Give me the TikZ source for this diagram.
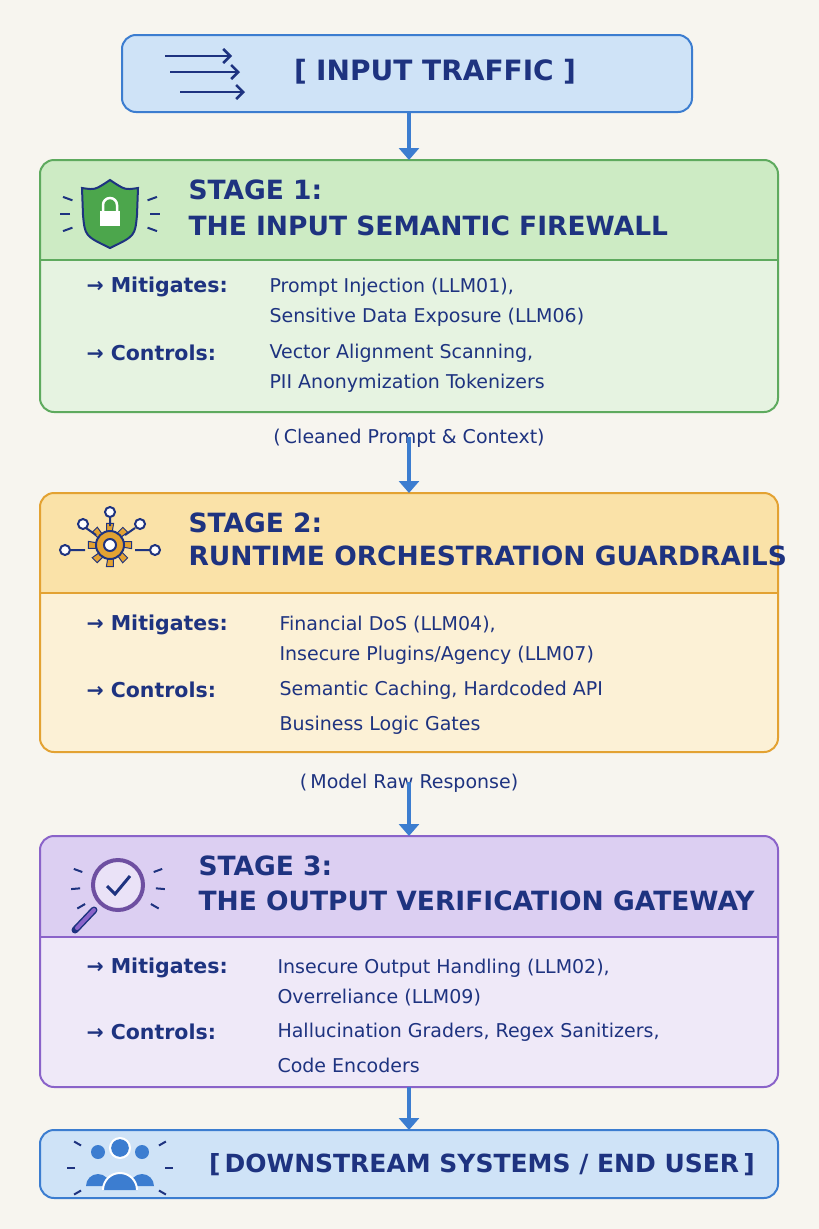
\documentclass[tikz,border=0pt]{standalone}
\usepackage{fontspec}
\setmainfont{DejaVu Sans}
\usetikzlibrary{arrows.meta}
\definecolor{bg}{HTML}{F7F5EF}
\definecolor{ink}{HTML}{1E3380}
\definecolor{bluef}{HTML}{CFE3F7}\definecolor{blueb}{HTML}{3C7DD0}
\definecolor{greenf}{HTML}{E6F3E1}\definecolor{greenh}{HTML}{CDEBC4}\definecolor{greenb}{HTML}{5EAA5E}
\definecolor{orf}{HTML}{FCF1D6}\definecolor{orh}{HTML}{FAE2A8}\definecolor{orb}{HTML}{E3A232}
\definecolor{puf}{HTML}{EFE9F8}\definecolor{puh}{HTML}{DCCFF2}\definecolor{pub}{HTML}{8A63C9}
\tikzset{
 flow/.style={draw=blueb,line width=4.5pt,-{Triangle[length=12pt,width=20pt]}},
 title/.style={anchor=west,text=ink,font=\fontsize{26.5}{30}\selectfont\bfseries},
 lab/.style={anchor=west,text=ink,font=\fontsize{20.5}{24}\selectfont\bfseries},
 val/.style={anchor=west,text=ink,font=\fontsize{19}{22}\selectfont},
 mid/.style={text=ink,font=\fontsize{19}{22}\selectfont},
 box/.style={line width=2pt,rounded corners=14pt},
}
\begin{document}
\begin{tikzpicture}[x=1pt,y=-1pt]
\fill[bg] (0,0) rectangle (819,1229);
\useasboundingbox (0,0) rectangle (819,1229);
% top
\draw[box,fill=bluef,draw=blueb] (122,35) rectangle (692,112);
\node[text=ink,font=\fontsize{28}{32}\selectfont\bfseries] (top) at (435,72) {[\,\,INPUT TRAFFIC\,\,]};
\foreach \y/\a/\b in {56/165/232,72/170/240,92/180/245}
 \draw[ink,line width=2.5pt,-{Straight Barb[length=7pt]}] (\a,\y) -- (\b,\y);
% stage 1
\begin{scope}\clip[rounded corners=14pt] (40,160) rectangle (778,412);
\fill[greenf] (40,160) rectangle (778,412);
\fill[greenh] (40,160) rectangle (778,260);\end{scope}
\draw[greenb,line width=2pt] (40,260) -- (778,260);
\draw[box,draw=greenb] (40,160) rectangle (778,412);
\node[coordinate] (s1) at (409,160) {};
\node[coordinate] (s1b) at (409,412) {};
\draw[fill=green!50!black!70,draw=ink,line width=2pt] (110,180) .. controls (125,190) .. (138,188) -- (137,215) .. controls (135,236) .. (110,248) .. controls (85,236) .. (83,215) -- (82,188) .. controls (95,190) .. (110,180) -- cycle;
\draw[white,line width=2.5pt] (103,212) -- (103,205) arc (180:360:7) -- (117,212);
\fill[white] (100,211) rectangle (120,226);
\foreach \a in {160,180,200,-20,0,20}{\draw[ink,line width=2pt] (110,214) ++(\a:40) -- ++(\a:10);}
\node[title] (t1a) at (185,190) {STAGE 1:};
\node[title] (t1b) at (185,226) {THE INPUT SEMANTIC FIREWALL};
\node[lab] (m1) at (83,287) {→ Mitigates:};
\node[val] at (266,287) {Prompt Injection (LLM01),};
\node[val] at (266,317) {Sensitive Data Exposure (LLM06)};
\node[lab] (c1) at (83,353) {→ Controls:};
\node[val] at (266,353) {Vector Alignment Scanning,};
\node[val] at (266,383) {PII Anonymization Tokenizers};
\node[mid] (l1) at (409,438) {(\,Cleaned Prompt \& Context)};
% stage 2
\begin{scope}\clip[rounded corners=14pt] (40,493) rectangle (778,752);
\fill[orf] (40,493) rectangle (778,752);
\fill[orh] (40,493) rectangle (778,593);\end{scope}
\draw[orb,line width=2pt] (40,593) -- (778,593);
\draw[box,draw=orb] (40,493) rectangle (778,752);
\node[coordinate] (s2) at (409,493) {};
\node[coordinate] (s2b) at (409,752) {};
\foreach \a in {0,45,...,315}{\fill[orb,draw=ink,line width=1pt] (110,545) ++(\a-14:14) -- ++(\a:8) -- ++(\a+90:7) -- (110,545) ++(\a+14:14) -- cycle;}
\draw[fill=orb,draw=ink,line width=2pt] (110,545) circle (14);
\draw[fill=white,draw=ink,line width=2pt] (110,545) circle (6);
\foreach \p in {(65,550),(83,524),(110,512),(140,524),(155,550)}
 \draw[ink,line width=2pt,fill=white] \p circle (5);
\draw[ink,line width=2pt] (70,550)--(85,550) (86,528)--(96,535) (110,517)--(110,526) (135,528)--(125,535) (150,550)--(135,550);
\node[title] (t2a) at (185,523) {STAGE 2:};
\node[title] (t2b) at (185,556) {RUNTIME ORCHESTRATION GUARDRAILS};
\node[lab] (m2) at (83,625) {→ Mitigates:};
\node[val] at (276,625) {Financial DoS (LLM04),};
\node[val] at (276,655) {Insecure Plugins/Agency (LLM07)};
\node[lab] (c2) at (83,690) {→ Controls:};
\node[val] at (276,690) {Semantic Caching, Hardcoded API};
\node[val] at (276,725) {Business Logic Gates};
\node[mid] (l2) at (409,783) {(\,Model Raw Response)};
% stage 3
\begin{scope}\clip[rounded corners=14pt] (40,836) rectangle (778,1087);
\fill[puf] (40,836) rectangle (778,1087);
\fill[puh] (40,836) rectangle (778,937);\end{scope}
\draw[pub,line width=2pt] (40,937) -- (778,937);
\draw[box,draw=pub] (40,836) rectangle (778,1087);
\node[coordinate] (s3) at (409,836) {};
\node[coordinate] (s3b) at (409,1087) {};
\draw[ink,line width=7pt,line cap=round] (94,910) -- (75,930);
\draw[pub,line width=4pt,line cap=round] (94,910) -- (77,928);
\draw[fill=puh!60!white,draw=pub!80!black,line width=4pt] (118,885) circle (25);
\draw[ink,line width=3pt] (107,886) -- (115,894) -- (130,876);
\foreach \a in {150,175,200,-20,5,30}{\draw[ink,line width=2pt] (118,885) ++(\a:38) -- ++(\a:9);}
\node[title] (t3a) at (195,866) {STAGE 3:};
\node[title] (t3b) at (195,901) {THE OUTPUT VERIFICATION GATEWAY};
\node[lab] (m3) at (83,968) {→ Mitigates:};
\node[val] at (274,968) {Insecure Output Handling (LLM02),};
\node[val] at (274,998) {Overreliance (LLM09)};
\node[lab] (c3) at (83,1032) {→ Controls:};
\node[val] at (274,1032) {Hallucination Graders, Regex Sanitizers,};
\node[val] at (274,1065) {Code Encoders};
% bottom
\draw[box,fill=bluef,draw=blueb] (40,1130) rectangle (778,1198);
\node[coordinate] (bt) at (409,1130) {};
\node[text=ink,font=\fontsize{25}{30}\selectfont\bfseries] (bot) at (482,1165) {[\,DOWNSTREAM SYSTEMS / END USER\,]};
\foreach \x in {98,142}{\fill[blueb] (\x,1152) circle (7); \fill[blueb] (\x-12,1186) arc (180:360:12) -- cycle;}
\fill[blueb] (120,1148) circle (9);\fill[blueb] (103,1190) arc (180:360:17) -- cycle;
\draw[white,line width=2pt] (103,1190) arc (180:360:17);
\draw[white,line width=2pt] (120,1148) circle (10);
\foreach \a in {150,180,210,-30,0,30}{\draw[ink,line width=2pt] (120,1168) ++(\a:45) -- ++(\a:8);}
% connectors
\node[coordinate] (tb) at (409,112) {};
\draw[flow] (tb) -- (s1);
\draw[flow] ([yshift=14pt]l1.south) -- (s2);
\draw[flow] ([yshift=14pt]l2.south) -- (s3);
\draw[flow] (s3b) -- (bt);
\end{tikzpicture}
\end{document}
